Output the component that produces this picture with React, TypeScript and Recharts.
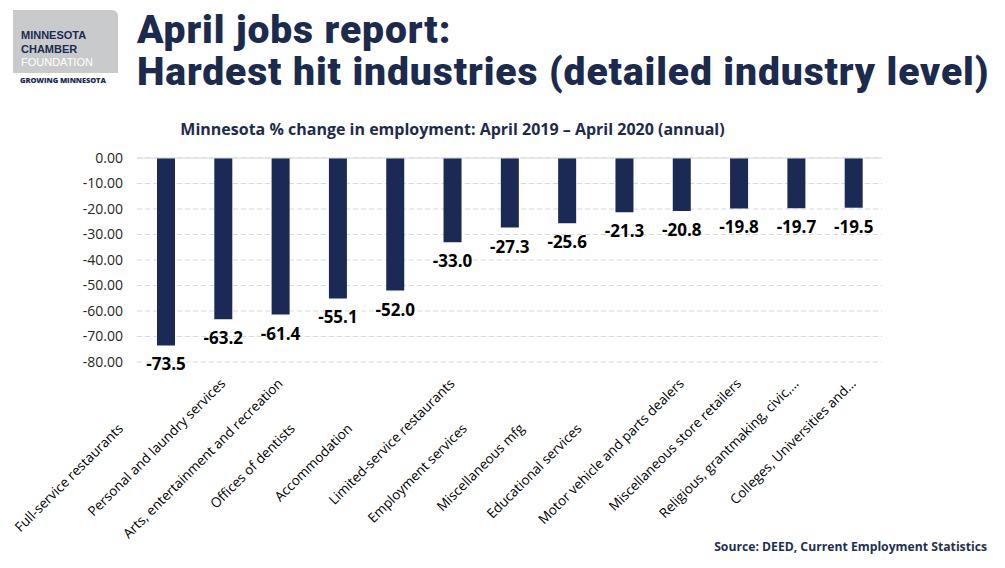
import { BarChart, Bar, XAxis, YAxis, CartesianGrid, ReferenceLine, LabelList } from "recharts";

const industries = [
  "Full-service restaurants",
  "Personal and laundry services",
  "Arts, entertainment and recreation",
  "Offices of dentists",
  "Accommodation",
  "Limited-service restaurants",
  "Employment services",
  "Miscellaneous mfg",
  "Educational services",
  "Motor vehicle and parts dealers",
  "Miscellaneous store retailers",
  "Religious, grantmaking, civic,…",
  "Colleges, Universities and…",
];

const pctChange = [-73.5, -63.2, -61.4, -55.1, -52.0, -33.0, -27.3, -25.6, -21.3, -20.8, -19.8, -19.7, -19.5];

const yTicks = [0, -10, -20, -30, -40, -50, -60, -70, -80];

const data = industries.map((name, i) => ({ name, value: pctChange[i] }));

const NAVY = "#1b2a55";
const FONT = "'Open Sans', sans-serif";
const LOGO_FONT = "'Liberation Sans', Arial, sans-serif";

// rotated category labels, hanging down-left from each bar position
const IndustryTick = (props: any) => {
  const { x, y, payload } = props;
  const label = String(payload.value);
  const t = label.length < 25 ? 45 : 0; // short labels sit lower on the diagonal
  const px = x - t;
  const py = y + 19 + t;
  return (
    <text
      x={px}
      y={py}
      dy="0.35em"
      textAnchor="end"
      transform={`rotate(-45, ${px}, ${py})`}
      fontFamily={FONT}
      fontSize={13.5}
      fill="#000"
    >
      {label}
    </text>
  );
};

const ValueLabel = (props: any) => {
  const { x, y, width, height, value } = props;
  const bottom = Math.max(y, y + height);
  return (
    <text
      x={x + width / 2}
      y={bottom + 19}
      dy="0.35em"
      textAnchor="middle"
      fontFamily={FONT}
      fontWeight={700}
      fontSize={17}
      fill="#000"
    >
      {Number(value).toFixed(1)}
    </text>
  );
};

const logoLine = (top: number, text: string, color: string, weight: number) => (
  <div
    style={{
      position: "absolute",
      left: 21,
      top,
      fontFamily: LOGO_FONT,
      fontWeight: weight,
      fontSize: 11,
      lineHeight: "12.6px",
      color,
      whiteSpace: "nowrap",
    }}
  >
    {text}
  </div>
);

export default function App() {
  return (
    <div style={{ position: "absolute", left: 0, top: 0, width: 1005, height: 568, background: "#fff", overflow: "hidden" }}>
      {/* logo */}
      <div
        style={{
          position: "absolute",
          left: 13,
          top: 10,
          width: 105,
          height: 63,
          background: "#c9cacc",
          borderTopRightRadius: 6,
        }}
      />
      {logoLine(29, "MINNESOTA", "#1c2b52", 700)}
      {logoLine(43, "CHAMBER", "#1c2b52", 700)}
      {logoLine(56, "FOUNDATION", "#fff", 400)}
      <div style={{ position: "absolute", left: 20, top: 76, fontFamily: FONT, fontWeight: 800, fontSize: 7.5, lineHeight: "9px", color: "#1c2b52", letterSpacing: -0.1 }}>
        GROWING MINNESOTA
      </div>

      {/* title */}
      <div
        style={{
          position: "absolute",
          left: 137,
          top: 9,
          fontFamily: "Roboto, sans-serif",
          fontWeight: 900,
          fontSize: 39,
          lineHeight: "42px",
          letterSpacing: 0.9,
          color: "#1c2a4e",
          whiteSpace: "nowrap",
        }}
      >
        April jobs report:
        <br />
        Hardest hit industries (detailed industry level)
      </div>

      <div
        style={{
          position: "absolute",
          left: 0,
          width: 905,
          top: 118,
          textAlign: "center",
          fontFamily: FONT,
          fontWeight: 700,
          fontSize: 16,
          color: "#1f2b4a",
        }}
      >
        Minnesota % change in employment: April 2019 – April 2020 (annual)
      </div>

      <div style={{ position: "absolute", left: 0, top: 0 }}>
        <BarChart width={1005} height={568} data={data} margin={{ top: 158, right: 123, bottom: 26, left: 77 }}>
          <CartesianGrid vertical={false} stroke="#d9d9d9" strokeDasharray="5 3" />
          <ReferenceLine y={0} stroke="#d9d9d9" strokeWidth={1} />
          <XAxis
            dataKey="name"
            height={180}
            axisLine={false}
            tickLine={false}
            tickSize={0}
            tickMargin={0}
            interval={0}
            tick={<IndustryTick />}
          />
          <YAxis
            width={60}
            domain={[-80, 0]}
            ticks={yTicks}
            axisLine={false}
            tickLine={false}
            tickSize={0}
            tickMargin={14}
            tickFormatter={(v: number) => v.toFixed(2)}
            tick={{ fill: "#262626", fontSize: 14, fontFamily: FONT }}
          />
          <Bar dataKey="value" fill={NAVY} barSize={18} isAnimationActive={false}>
            <LabelList dataKey="value" content={<ValueLabel />} />
          </Bar>
        </BarChart>
      </div>

      <div
        style={{
          position: "absolute",
          right: 18,
          top: 538,
          fontFamily: FONT,
          fontWeight: 700,
          fontSize: 12.2,
          color: "#1f3152",
          whiteSpace: "nowrap",
        }}
      >
        Source: DEED, Current Employment Statistics
      </div>
    </div>
  );
}
